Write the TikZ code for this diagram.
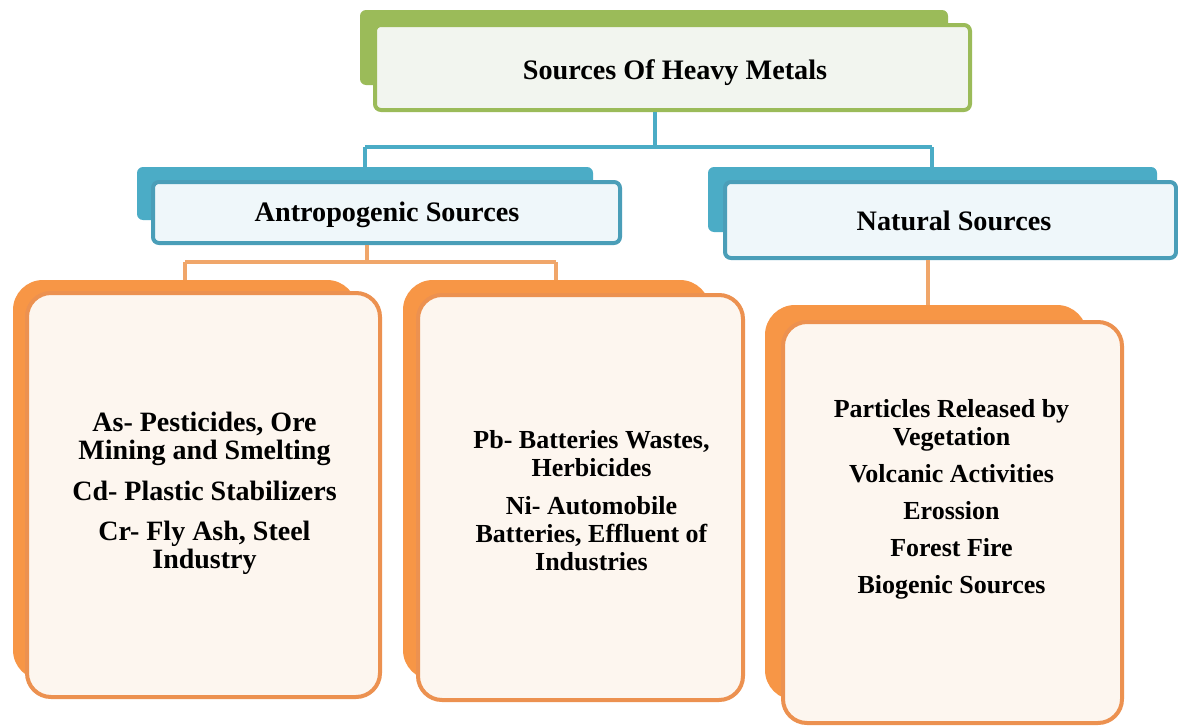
\documentclass[tikz,border=0pt]{standalone}
\usepackage{fontspec}
\setmainfont{Liberation Serif}[BoldFont={Liberation Serif Bold}, ItalicFont={Liberation Serif Italic}, BoldItalicFont={Liberation Serif Bold Italic}]
\definecolor{cgreen}{HTML}{9BBB59}
\definecolor{cblue}{HTML}{4BACC6}
\definecolor{cblued}{HTML}{4A9EB8}
\definecolor{corange}{HTML}{F79646}
\definecolor{corbord}{HTML}{EC9150}
\definecolor{corline}{HTML}{F0A66A}
\definecolor{fgreen}{HTML}{F2F5EF}
\definecolor{fblue}{HTML}{EFF7FA}
\definecolor{forange}{HTML}{FDF6EF}
\tikzset{
  backbox/.style={rectangle, rounded corners=#1, inner sep=0pt, draw=none},
  hdrtext/.style={font=\fontsize{28.2}{30}\selectfont\bfseries, text=black, anchor=base, inner sep=0pt},
  bodytext/.style={font=\fontsize{#1}{28}\selectfont\bfseries, align=center, text=black, inner sep=0pt, anchor=base},
  greenfront/.style={rectangle, rounded corners=6pt, draw=cgreen, line width=4pt, fill=fgreen, inner sep=0pt},
  bluefront/.style={rectangle, rounded corners=6pt, draw=cblued, line width=4pt, fill=fblue, inner sep=0pt},
  orfront/.style={rectangle, rounded corners=24pt, draw=corbord, line width=4pt, fill=forange, inner sep=0pt},
  blueline/.style={draw=cblue, line width=4pt},
  orline/.style={draw=corline, line width=3.5pt},
}
\begin{document}
\begin{tikzpicture}[x=1pt,y=-1pt]
\useasboundingbox (0,0) rectangle (1178,728);
\fill[white] (0,0) rectangle (1178,728);

% back boxes
\node[backbox=6pt, fill=cgreen, minimum width=588pt, minimum height=75pt] (Tb) at (654,47.5) {};
\node[backbox=6pt, fill=cblue, minimum width=456pt, minimum height=53pt] (Ab) at (365,193.5) {};
\node[backbox=6pt, fill=cblue, minimum width=449pt, minimum height=65pt] (Nb) at (932.5,199.5) {};
\node[backbox=30pt, fill=corange, minimum width=344pt, minimum height=400pt] (O1b) at (185,480) {};
\node[backbox=30pt, fill=corange, minimum width=307pt, minimum height=400pt] (O2b) at (556.5,480) {};
\node[backbox=30pt, fill=corange, minimum width=322pt, minimum height=395pt] (O3b) at (926,502.5) {};

% connectors
\coordinate (j0) at (655,147);
\coordinate (jA) at (365,147);
\coordinate (jN) at (932,147);
\coordinate (k0) at (367,262);
\coordinate (kA) at (185,262);
\coordinate (kB) at (556,262);
\coordinate (n0) at (928,262);

% front boxes
\node[greenfront, minimum width=595pt, minimum height=85pt] (T) at (672.5,67.5) {};
\node[bluefront, minimum width=467pt, minimum height=61pt] (A) at (386.5,212.5) {};
\node[bluefront, minimum width=451pt, minimum height=76pt] (N) at (950.5,220) {};
\node[orfront, minimum width=353pt, minimum height=404pt] (O1) at (203.5,495) {};
\node[orfront, minimum width=325pt, minimum height=405pt] (O2) at (580.5,497.5) {};
\node[orfront, minimum width=339pt, minimum height=401pt] (O3) at (952.5,522.5) {};

\draw[blueline] (T.south -| j0) -- (j0);
\draw[blueline] (jA) -- (jN);
\draw[blueline] (jA) -- (Ab.north -| jA);
\draw[blueline] (jN) -- (Nb.north -| jN);
\draw[orline] (A.south -| k0) -- (k0);
\draw[orline] (kA) -- (kB);
\draw[orline] (kA) -- (O1b.north -| kA);
\draw[orline] (kB) -- (O2b.north -| kB);
\draw[orline] (N.south -| n0) -- (O3b.north -| n0);

% texts (multi-line nodes: base anchor = last line's baseline)
\node[hdrtext] (Tt) at (675,79) {Sources Of Heavy Metals};
\node[hdrtext] (At) at (387,221) {Antropogenic Sources};
\node[hdrtext] (Nt) at (954,230) {Natural Sources};

\node[bodytext=28] (O1t) at (204.5,568) {As- Pesticides, Ore\\Mining and Smelting\\[13pt]Cd- Plastic Stabilizers\\[12pt]Cr- Fly Ash, Steel\\Industry};
\node[bodytext=26] (O2t) at (591.5,570) {Pb- Batteries Wastes,\\Herbicides\\[10pt]Ni- Automobile\\Batteries, Effluent of\\Industries};
\node[bodytext=26] (O3t) at (951.5,593) {Particles Released by\\Vegetation\\[9pt]Volcanic Activities\\[9pt]Erossion\\[9pt]Forest Fire\\[9pt]Biogenic Sources};
\end{tikzpicture}
\end{document}
